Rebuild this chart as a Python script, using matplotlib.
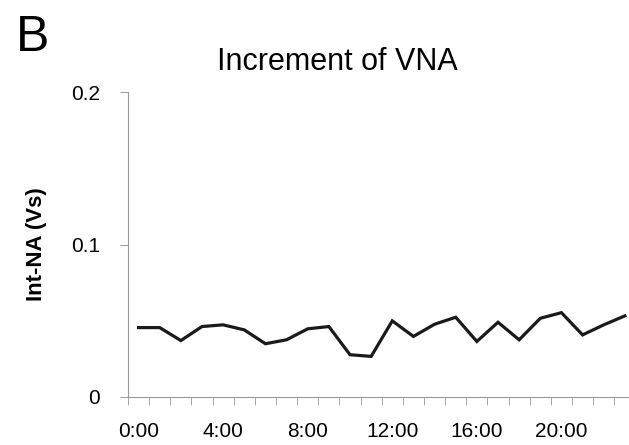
import numpy as np
import matplotlib.pyplot as plt

plt.rcParams['font.family'] = ['Liberation Sans Narrow', 'Liberation Sans', 'DejaVu Sans']

hours = np.arange(24)
vna_inc = [0.0455, 0.0455, 0.037, 0.0462, 0.0473, 0.044, 0.0349, 0.0375,
           0.0447, 0.0462, 0.0277, 0.0266, 0.0499, 0.0397, 0.0477, 0.0523,
           0.0364, 0.049, 0.0375, 0.0516, 0.0553, 0.0407, 0.0473, 0.0532]
label_hours = [0, 4, 8, 12, 16, 20]
label_text = ['0:00', '4:00', '8:00', '12:00', '16:00', '20:00']

fig = plt.figure(figsize=(6.29, 4.45), dpi=100)
ax = fig.add_axes([0.2035, 0.108, 0.8, 0.685])

ax.plot(hours, vna_inc, color='#1a1a1a', lw=2.3, solid_joinstyle='miter')

ax.set_xlim(-0.5, 23.3)
ax.set_ylim(0, 0.2)

for s in ['top', 'right']:
    ax.spines[s].set_visible(False)
for s in ['left', 'bottom']:
    ax.spines[s].set_color('#999999')
    ax.spines[s].set_linewidth(0.8)
    ax.spines[s].set_linestyle((0, (1, 1)))

ax.set_yticks([0, 0.1, 0.2])
ax.set_yticklabels(['0', '0.1', '0.2'])
ax.tick_params(axis='y', length=6, width=0.7, color='#999999', pad=14, labelsize=15)

ax.set_xticks(label_hours)
ax.set_xticklabels(label_text)
ax.set_xticks(np.arange(-0.5, 23.5, 1), minor=True)
ax.tick_params(axis='x', which='major', length=0, pad=18, labelsize=15)
ax.tick_params(axis='x', which='minor', length=6, width=0.7, color='#aaaaaa')

ax.set_ylabel('Int-NA (Vs)', fontsize=16, fontweight='bold', labelpad=17)
fig.text(0.536, 0.86, 'Increment of VNA', fontsize=22, ha='center', va='center')
fig.text(0.025, 0.915, 'B', fontsize=36, ha='left', va='center')

fig.savefig('out.png', dpi=100)
